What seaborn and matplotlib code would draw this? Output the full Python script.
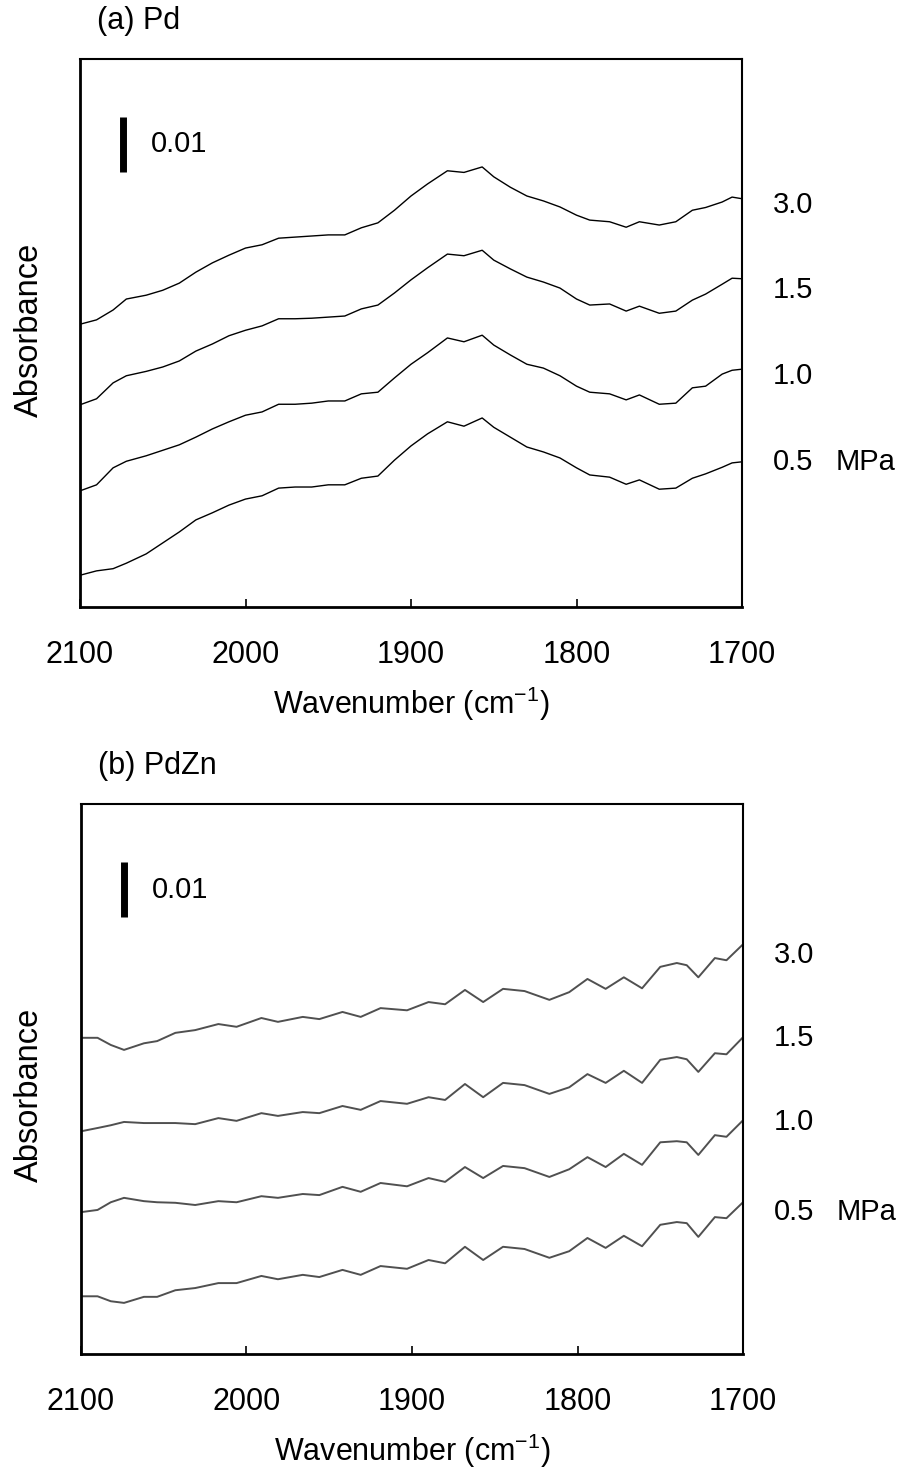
import numpy as np
import pandas as pd
import matplotlib
matplotlib.use("Agg")
import matplotlib.pyplot as plt
import matplotlib.transforms as mtransforms
import seaborn as sns

# wavenumbers (cm-1)
wn_pd = [2100, 2090, 2080, 2072, 2060, 2050, 2040, 2030, 2020, 2010, 2000,
         1990, 1980, 1970, 1960, 1950, 1940, 1930, 1920, 1910, 1900,
         1890, 1878, 1868, 1857, 1850, 1840, 1830, 1820, 1810, 1800,
         1792, 1780, 1770, 1762, 1750, 1740, 1730, 1722, 1712, 1706, 1700]
wn_pdzn = [2100, 2090, 2082, 2074, 2062, 2054, 2043, 2031, 2017, 2006,
           1991, 1981, 1966, 1956, 1942, 1931, 1919, 1903, 1890, 1880,
           1868, 1857, 1845, 1832, 1817, 1805, 1794, 1783, 1772, 1761,
           1750, 1740, 1734, 1727, 1717, 1710, 1700]

pressures = ["3.0", "1.5", "1.0", "0.5"]

# absorbance x 1e-3, stacked spectra as drawn
pd_30 = [51.6, 52.4, 54.2, 56.2, 56.9, 57.8, 59.1, 61.1, 62.8, 64.2, 65.5,
         66.1, 67.3, 67.5, 67.7, 67.9, 67.9, 69.2, 70.1, 72.4, 75.0,
         77.2, 79.6, 79.3, 80.3, 78.5, 76.6, 75.0, 74.1, 73.0, 71.5,
         70.6, 70.3, 69.3, 70.3, 69.7, 70.3, 72.4, 72.9, 73.9, 74.8, 74.5]
pd_15 = [36.9, 38.0, 40.9, 42.2, 43.0, 43.8, 44.9, 46.7, 48.0, 49.5, 50.5,
         51.3, 52.6, 52.6, 52.7, 52.9, 53.1, 54.4, 55.1, 57.3, 59.7,
         61.9, 64.4, 64.1, 65.1, 63.3, 61.7, 60.2, 59.3, 58.2, 56.2,
         55.1, 55.3, 54.0, 54.9, 53.6, 54.0, 56.0, 57.1, 58.9, 60.0, 59.9]
pd_10 = [21.2, 22.3, 25.4, 26.6, 27.6, 28.6, 29.6, 31.0, 32.5, 33.8, 35.0,
         35.6, 37.0, 37.0, 37.2, 37.6, 37.6, 38.9, 39.2, 41.8, 44.3,
         46.4, 49.1, 48.4, 49.6, 47.8, 46.0, 44.3, 43.6, 42.2, 40.3,
         39.2, 38.9, 37.8, 38.7, 37.0, 37.2, 40.0, 40.3, 42.5, 43.2, 43.4]
pd_05 = [5.8, 6.6, 7.0, 8.0, 9.7, 11.7, 13.7, 15.9, 17.2, 18.6, 19.7,
         20.3, 21.7, 21.9, 21.9, 22.3, 22.3, 23.5, 23.9, 26.8, 29.4,
         31.6, 33.8, 33.0, 34.5, 32.8, 31.0, 29.2, 28.3, 27.2, 25.4,
         24.1, 23.7, 22.4, 23.2, 21.5, 21.7, 23.5, 24.3, 25.5, 26.3, 26.5]

pdzn_30 = [57.5, 57.5, 56.2, 55.3, 56.5, 56.9, 58.4, 58.9, 60.0, 59.5,
           61.1, 60.4, 61.3, 60.9, 62.2, 61.3, 62.9, 62.5, 64.0, 63.6,
           66.2, 64.0, 66.4, 66.0, 64.4, 65.8, 68.2, 66.4, 68.5, 66.5,
           70.4, 71.1, 70.7, 68.5, 72.0, 71.6, 74.5]
pdzn_15 = [40.5, 41.1, 41.6, 42.2, 42.0, 42.0, 42.0, 41.8, 42.9, 42.4,
           43.8, 43.3, 44.0, 43.8, 45.1, 44.4, 46.0, 45.5, 46.7, 46.2,
           49.1, 46.7, 49.3, 48.9, 47.3, 48.5, 50.9, 49.3, 51.5, 49.3,
           53.5, 54.0, 53.6, 51.3, 54.7, 54.5, 57.6]
pdzn_10 = [25.8, 26.2, 27.6, 28.4, 27.8, 27.6, 27.5, 27.1, 27.8, 27.6,
           28.7, 28.4, 29.1, 28.9, 30.4, 29.5, 31.1, 30.5, 32.0, 31.3,
           34.0, 32.0, 34.2, 33.8, 32.2, 33.6, 35.8, 34.0, 36.4, 34.4,
           38.5, 38.7, 38.5, 36.2, 39.8, 39.5, 42.5]
pdzn_05 = [10.5, 10.5, 9.6, 9.3, 10.4, 10.4, 11.6, 12.0, 12.9, 12.9,
           14.2, 13.6, 14.4, 14.0, 15.3, 14.4, 16.0, 15.5, 17.1, 16.5,
           19.5, 17.1, 19.5, 19.1, 17.5, 18.7, 21.1, 19.3, 21.5, 19.6,
           23.5, 24.0, 23.8, 21.3, 24.9, 24.7, 27.6]

scale_bar = 0.01  # absorbance

sns.set_style("white")
plt.rcParams["font.family"] = ["Liberation Sans", "DejaVu Sans"]
plt.rcParams["mathtext.default"] = "regular"
plt.rcParams["text.color"] = "black"
plt.rcParams["axes.labelcolor"] = "black"
plt.rcParams["xtick.color"] = "black"

fig = plt.figure(figsize=(9.06, 14.67), dpi=100)
ax_a = fig.add_axes([0.0883, 0.5862, 0.7307, 0.3736])
ax_b = fig.add_axes([0.0894, 0.0770, 0.7307, 0.3749])


def draw_panel(ax, wn, curves, color, lw, title, label_pos):
    df = pd.concat([pd.DataFrame({"wn": wn, "A": np.array(c) * 1e-3, "p": p})
                    for p, c in zip(pressures, curves)])
    sns.lineplot(data=df, x="wn", y="A", hue="p", units="p", estimator=None,
                 palette=[color] * 4, linewidth=lw, sort=False, legend=False, ax=ax)
    ax.set_xlim(2100, 1700)
    ax.set_ylim(0, 0.1)
    ax.set_xticks([2100, 2000, 1900, 1800, 1700])
    ax.set_yticks([])
    ax.tick_params(axis="x", direction="in", length=6, width=1.2, pad=24,
                   labelsize=22, bottom=True, colors="black")
    ax.set_ylabel("")
    ax.set_xlabel(r"Wavenumber (cm$^{-1}$)", fontsize=22, labelpad=10)
    for side in ["left", "bottom"]:
        ax.spines[side].set_linewidth(2.0)
    for side in ["top", "right"]:
        ax.spines[side].set_linewidth(1.5)
    for s in ax.spines.values():
        s.set_color("black")

    # 0.01 scale bar
    ax.plot([2074, 2074], [0.0794, 0.0794 + scale_bar], color="black",
            linewidth=5, solid_capstyle="butt")
    ax.text(2057, 0.0794 + scale_bar / 2, "0.01", fontsize=21, va="center", ha="left")

    ax.text(0.026, 1.07, title, transform=ax.transAxes, fontsize=22,
            va="center", ha="left")

    trans = mtransforms.blended_transform_factory(ax.transAxes, ax.transAxes)
    for p, y in zip(pressures, label_pos):
        ax.text(1.047, y, p, transform=trans, fontsize=21, va="center",
                ha="left", clip_on=False)
    ax.text(1.142, label_pos[-1], "MPa", transform=trans, fontsize=21,
            va="center", ha="left", clip_on=False)


draw_panel(ax_a, wn_pd, [pd_30, pd_15, pd_10, pd_05], "black", 1.0,
           "(a) Pd", [0.734, 0.579, 0.422, 0.265])
draw_panel(ax_b, wn_pdzn, [pdzn_30, pdzn_15, pdzn_10, pdzn_05], "#505050", 1.4,
           "(b) PdZn", [0.726, 0.575, 0.422, 0.258])

fig.text(0.033, 0.775, "Absorbance", rotation=90, fontsize=23.5, va="center", ha="center")
fig.text(0.033, 0.2536, "Absorbance", rotation=90, fontsize=23.5, va="center", ha="center")

fig.savefig("out.png", dpi=100)
